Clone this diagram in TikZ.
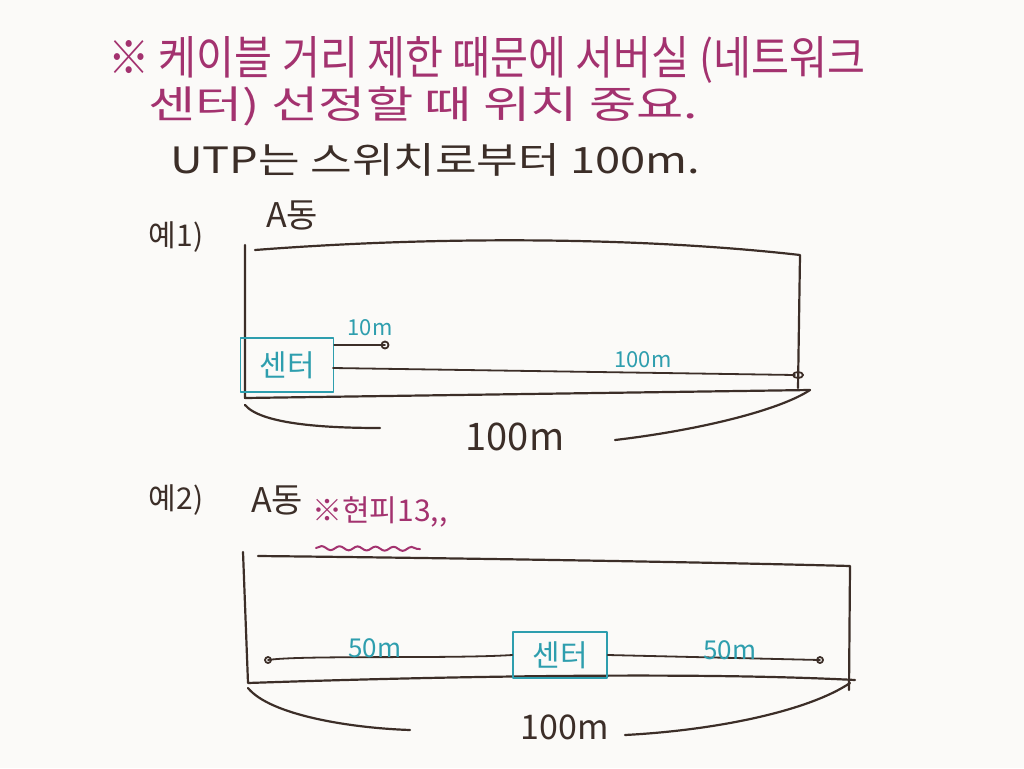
\documentclass[tikz,border=0pt]{standalone}
\usepackage{fontspec}
\newfontfamily\kr{Noto Sans CJK KR}
\usetikzlibrary{decorations.pathmorphing}
\definecolor{ink}{HTML}{3C2E28}
\definecolor{pen}{HTML}{A3326F}
\definecolor{cyanpen}{HTML}{2E9EAE}
\definecolor{paper}{HTML}{FBFAF8}
\begin{document}
\begin{tikzpicture}[x=1pt,y=-1pt,line cap=round,line join=round,
  stroke/.style={draw=ink,line width=2.2pt},
  pstroke/.style={draw=pen,line width=2pt},
  note/.style={text=pen,inner sep=0pt,anchor=west},
  dark/.style={text=ink,inner sep=0pt},
  cyantext/.style={text=cyanpen,inner sep=0pt},
  centerbox/.style={draw=cyanpen,line width=1.6pt,text=cyanpen,inner sep=0pt,font=\kr\fontsize{30}{32}\selectfont},
  endring/.style={draw=ink,line width=1.8pt}]
\useasboundingbox[fill=paper] (0,0) rectangle (1024,768);

% heading notes
\node[note,font=\kr\fontsize{38}{40}\selectfont] (t1) at (108,60) {\resizebox{757pt}{38pt}{※ 케이블 거리 제한 때문에 서버실 (네트워크}};
\node[note,font=\kr\fontsize{36}{38}\selectfont] (t2) at (148,106) {\resizebox{550pt}{32pt}{센터) 선정할 때 위치 중요.}};
\node[dark,anchor=west,font=\kr\fontsize{34}{36}\selectfont] (t3) at (170,160) {\resizebox{530pt}{30pt}{UTP는 스위치로부터 100m.}};

% example 1
\node[dark,font=\kr\fontsize{30}{32}\selectfont] (ex1) at (176,237) {예1)};
\node[dark,font=\kr\fontsize{34}{36}\selectfont] (a1) at (292,215) {A동};

\coordinate (b1tl) at (255,250);
\coordinate (b1tr) at (800,255);
\coordinate (b1br) at (810,390);
\coordinate (b1bl) at (245,398);
\draw[stroke] (b1tl) .. controls (450,235) and (650,238) .. (b1tr) -- (798,388);
\draw[stroke] (245,245) -- (b1bl) -- (b1br);

\node[centerbox,minimum width=93pt,minimum height=54pt] (c1) at (287,365) {센터};
\coordinate (e1) at (385,345);
\coordinate (e2) at (795,375);
\draw[stroke,line width=1.8pt] (c1.east |- e1) -- (e1);
\draw[endring] (e1) circle (3.5pt);
\draw[stroke,line width=1.8pt] (333,368) -- (e2);
\draw[endring] ([xshift=3pt]e2) ellipse (5pt and 3pt);
\node[cyantext,font=\kr\fontsize{22}{24}\selectfont] (l10) at (370,328) {10m};
\node[cyantext,font=\kr\fontsize{22}{24}\selectfont] (l100) at (643,360) {100m};

\node[dark,font=\kr\fontsize{38}{40}\selectfont] (d1) at (515,437) {100m};
\coordinate (br1) at (380,428);
\draw[stroke] (245,405) .. controls (262,425) and (330,428) .. (br1);
\draw[stroke] (615,440) .. controls (700,430) and (780,410) .. (b1br);

% example 2
\node[dark,font=\kr\fontsize{30}{32}\selectfont] (ex2) at (176,500) {예2)};
\node[dark,font=\kr\fontsize{34}{36}\selectfont] (a2) at (277,500) {A동};
\node[note,font=\kr\fontsize{30}{32}\selectfont] (n2) at (312,512) {※현피13,,};
\coordinate (w1) at (316,548);
\coordinate (w2) at (420,549);
\draw[pstroke,decorate,decoration={snake,amplitude=2pt,segment length=18pt}] (w1) -- (w2);

\coordinate (b2tl) at (258,556);
\coordinate (b2tr) at (850,566);
\coordinate (b2br) at (855,680);
\coordinate (b2bl) at (248,683);
\draw[stroke] (b2tl) .. controls (450,558) and (700,562) .. (b2tr) -- (849,690);
\draw[stroke] (243,552) -- (b2bl) .. controls (450,676) and (700,672) .. (b2br);

\node[centerbox,minimum width=94pt,minimum height=46pt] (c2) at (560,655) {센터};
\coordinate (f1) at (268,660);
\coordinate (f2) at (820,660);
\draw[stroke,line width=1.8pt] (f1) .. controls (300,655) and (450,659) .. (c2.west);
\draw[endring] (f1) circle (3pt);
\draw[stroke,line width=1.8pt] (c2.east) -- (f2);
\draw[endring] (f2) circle (3pt);
\node[cyantext,font=\kr\fontsize{26}{28}\selectfont] (l50a) at (375,648) {50m};
\node[cyantext,font=\kr\fontsize{26}{28}\selectfont] (l50b) at (730,650) {50m};

\node[dark,font=\kr\fontsize{34}{36}\selectfont] (d2) at (565,727) {100m};
\coordinate (br2) at (410,730);
\coordinate (br3) at (625,735);
\draw[stroke] (248,688) .. controls (270,715) and (350,728) .. (br2);
\draw[stroke] (br3) .. controls (720,730) and (810,710) .. (850,683);
\end{tikzpicture}
\end{document}
